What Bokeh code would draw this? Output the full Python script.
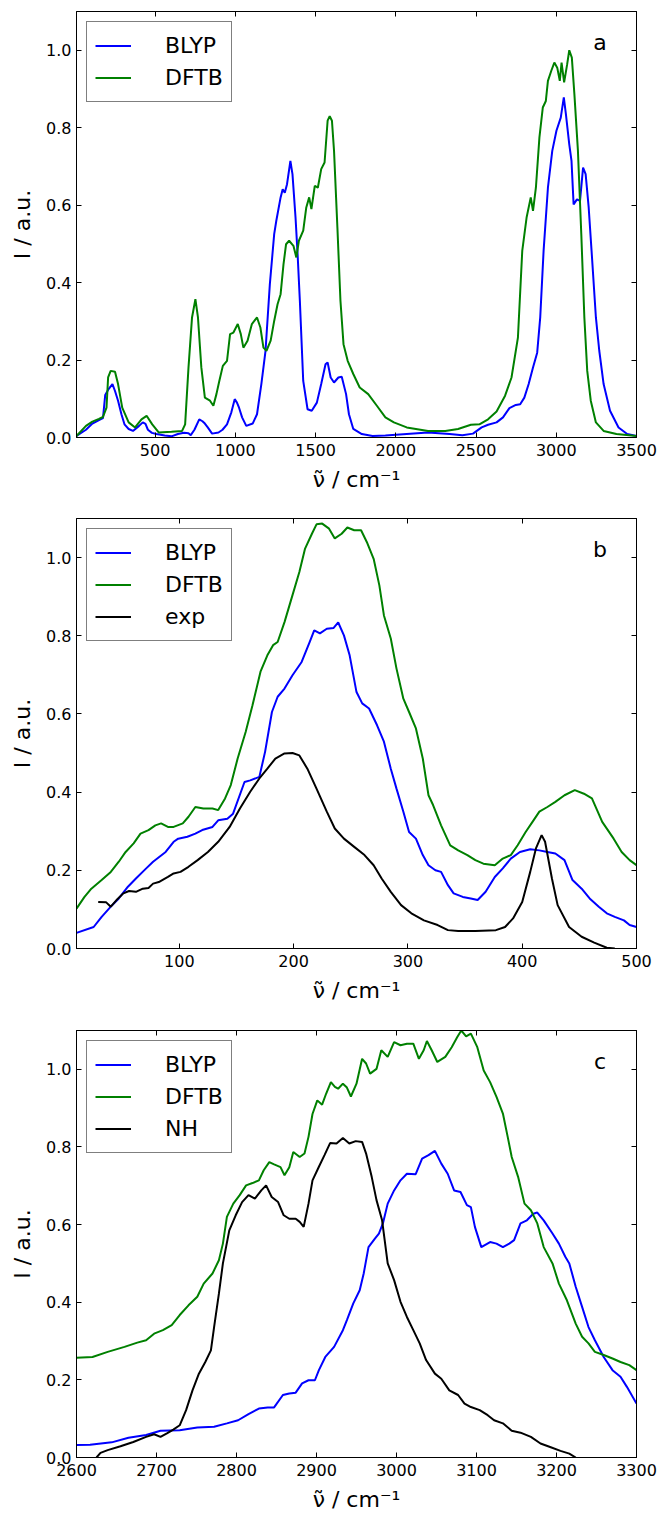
from bokeh.plotting import figure
from bokeh.layouts import column
from bokeh.models import (Range1d, LinearAxis, FixedTicker, PrintfTickFormatter,
                          Legend, LegendItem, Label)
from bokeh.embed import file_html
from bokeh.resources import INLINE

# ---------------- data ----------------
# panel a (full spectrum)
a_blyp_x = [10, 69, 109, 150, 175, 189, 210, 234, 250, 269,
            290, 309, 335, 362, 400, 423, 440, 455, 480, 508,
            560, 602, 642, 680, 708, 722, 745, 775, 795, 810,
            828, 855, 895, 920, 948, 975, 996, 1010, 1023, 1042,
            1068, 1108, 1135, 1162, 1188, 1215, 1242, 1255, 1282, 1295,
            1308, 1322, 1343, 1356, 1375, 1388, 1402, 1423, 1450, 1476,
            1508, 1535, 1562, 1575, 1594, 1615, 1642, 1663, 1690, 1708,
            1735, 1788, 1855, 1935, 2068, 2201, 2335, 2415, 2481, 2535,
            2575, 2628, 2668, 2708, 2748, 2775, 2801, 2828, 2855, 2881,
            2900, 2921, 2948, 2975, 3001, 3028, 3047, 3060, 3081, 3095,
            3108, 3129, 3148, 3167, 3183, 3202, 3220, 3247, 3268, 3295,
            3335, 3388, 3442, 3500]
a_blyp_y = [0.004, 0.02, 0.036, 0.045, 0.05, 0.11, 0.125, 0.138, 0.12, 0.095,
            0.06, 0.034, 0.022, 0.017, 0.03, 0.039, 0.035, 0.02, 0.012, 0.009,
            0.005, 0.003, 0.009, 0.012, 0.011, 0.006, 0.02, 0.047, 0.042, 0.036,
            0.026, 0.01, 0.013, 0.02, 0.034, 0.065, 0.099, 0.09, 0.077, 0.052,
            0.03, 0.036, 0.06, 0.138, 0.224, 0.396, 0.525, 0.559, 0.62, 0.641,
            0.632, 0.654, 0.714, 0.68, 0.568, 0.473, 0.353, 0.146, 0.073, 0.069,
            0.09, 0.138, 0.189, 0.194, 0.155, 0.142, 0.155, 0.157, 0.112, 0.06,
            0.022, 0.009, 0.004, 0.005, 0.009, 0.013, 0.009, 0.006, 0.01, 0.026,
            0.033, 0.039, 0.052, 0.076, 0.084, 0.086, 0.103, 0.138, 0.181, 0.219,
            0.31, 0.482, 0.645, 0.74, 0.792, 0.826, 0.878, 0.835, 0.757, 0.714,
            0.602, 0.615, 0.611, 0.697, 0.68, 0.594, 0.482, 0.31, 0.224, 0.138,
            0.069, 0.026, 0.009, 0.004]
a_dftb_x = [10, 69, 109, 150, 175, 197, 207, 223, 250, 269,
            295, 335, 375, 415, 447, 482, 522, 602, 668, 687,
            708, 730, 751, 767, 788, 810, 842, 863, 882, 900,
            922, 948, 967, 988, 1015, 1034, 1050, 1076, 1103, 1135,
            1156, 1175, 1194, 1220, 1242, 1263, 1282, 1300, 1316, 1335,
            1362, 1380, 1396, 1423, 1442, 1460, 1474, 1495, 1514, 1535,
            1556, 1575, 1588, 1602, 1615, 1636, 1655, 1674, 1700, 1735,
            1775, 1828, 1882, 1935, 1988, 2068, 2201, 2308, 2388, 2468,
            2521, 2575, 2628, 2681, 2721, 2761, 2788, 2815, 2841, 2855,
            2873, 2895, 2916, 2935, 2948, 2969, 2988, 3006, 3022, 3033,
            3049, 3068, 3081, 3097, 3113, 3135, 3156, 3175, 3193, 3215,
            3247, 3295, 3375, 3500]
a_dftb_y = [0.004, 0.03, 0.041, 0.048, 0.053, 0.077, 0.155, 0.172, 0.17, 0.138,
            0.077, 0.039, 0.026, 0.047, 0.056, 0.034, 0.013, 0.015, 0.017, 0.034,
            0.181, 0.31, 0.357, 0.31, 0.181, 0.103, 0.095, 0.082, 0.112, 0.146,
            0.185, 0.198, 0.267, 0.271, 0.293, 0.267, 0.232, 0.25, 0.293, 0.31,
            0.284, 0.232, 0.224, 0.25, 0.301, 0.344, 0.37, 0.447, 0.499, 0.508,
            0.495, 0.465, 0.508, 0.534, 0.594, 0.62, 0.59, 0.65, 0.645, 0.693,
            0.71, 0.818, 0.83, 0.818, 0.74, 0.542, 0.353, 0.241, 0.198, 0.164,
            0.129, 0.112, 0.082, 0.052, 0.039, 0.026, 0.017, 0.017, 0.022, 0.033,
            0.034, 0.047, 0.067, 0.108, 0.155, 0.258, 0.482, 0.568, 0.62, 0.585,
            0.645, 0.775, 0.852, 0.869, 0.921, 0.947, 0.968, 0.955, 0.921, 0.968,
            0.917, 0.964, 1.0, 0.981, 0.886, 0.74, 0.525, 0.31, 0.172, 0.095,
            0.039, 0.017, 0.009, 0.004]

# panel b (low-frequency region)
b_blyp_x = [10, 25, 32, 40, 47, 55, 62, 71, 77, 88,
            95, 99, 107, 114, 120, 129, 134, 142, 147, 157,
            162, 170, 175, 181, 186, 192, 199, 207, 214, 218,
            223, 229, 235, 239, 244, 249, 255, 260, 266, 273,
            279, 285, 290, 296, 301, 307, 313, 318, 324, 329,
            335, 340, 348, 355, 361, 368, 376, 383, 390, 398,
            407, 415, 422, 429, 437, 444, 452, 459, 467, 474,
            481, 489, 494, 500]
b_blyp_y = [0.04, 0.055, 0.081, 0.107, 0.128, 0.158, 0.179, 0.205, 0.222, 0.247,
            0.273, 0.281, 0.286, 0.294, 0.303, 0.311, 0.328, 0.332, 0.345, 0.426,
            0.43, 0.439, 0.503, 0.605, 0.644, 0.665, 0.699, 0.733, 0.784, 0.814,
            0.806, 0.818, 0.82, 0.834, 0.801, 0.75, 0.656, 0.627, 0.614, 0.571,
            0.529, 0.46, 0.409, 0.35, 0.298, 0.281, 0.239, 0.213, 0.2, 0.196,
            0.162, 0.141, 0.132, 0.128, 0.124, 0.145, 0.183, 0.205, 0.23, 0.247,
            0.254, 0.251, 0.247, 0.243, 0.226, 0.175, 0.153, 0.128, 0.107, 0.09,
            0.081, 0.072, 0.06, 0.055]
b_dftb_x = [10, 17, 23, 32, 40, 47, 53, 60, 66, 73,
            79, 84, 90, 95, 103, 108, 114, 121, 129, 134,
            140, 145, 151, 158, 164, 171, 177, 182, 186, 192,
            199, 205, 210, 216, 220, 225, 231, 236, 242, 247,
            253, 259, 264, 270, 275, 279, 285, 290, 296, 301,
            307, 313, 318, 322, 329, 337, 344, 352, 359, 366,
            376, 383, 390, 396, 403, 409, 415, 422, 429, 437,
            446, 454, 461, 470, 480, 487, 494, 500]
b_dftb_y = [0.102, 0.132, 0.153, 0.175, 0.196, 0.222, 0.247, 0.269, 0.294, 0.303,
            0.315, 0.32, 0.311, 0.311, 0.32, 0.337, 0.362, 0.358, 0.358, 0.354,
            0.384, 0.418, 0.486, 0.554, 0.622, 0.708, 0.75, 0.776, 0.784, 0.835,
            0.904, 0.963, 1.023, 1.061, 1.085, 1.087, 1.074, 1.049, 1.061, 1.077,
            1.07, 1.07, 1.04, 0.997, 0.929, 0.852, 0.793, 0.716, 0.639, 0.605,
            0.563, 0.486, 0.392, 0.367, 0.315, 0.264, 0.251, 0.239, 0.226, 0.217,
            0.213, 0.23, 0.239, 0.264, 0.298, 0.324, 0.35, 0.362, 0.375, 0.392,
            0.405, 0.396, 0.384, 0.324, 0.281, 0.247, 0.226, 0.213]
b_exp_x = [29, 36, 40, 45, 51, 56, 62, 68, 73, 77,
           82, 90, 95, 101, 108, 116, 125, 134, 144, 153,
           162, 170, 177, 184, 192, 199, 205, 212, 220, 229,
           236, 244, 253, 262, 270, 277, 285, 294, 303, 314,
           326, 335, 344, 359, 377, 385, 392, 400, 407, 412,
           417, 420, 426, 431, 441, 452, 463, 474, 481]
b_exp_y = [0.119, 0.118, 0.107, 0.124, 0.141, 0.147, 0.145, 0.153, 0.155, 0.166,
           0.17, 0.183, 0.192, 0.196, 0.209, 0.226, 0.247, 0.273, 0.311, 0.358,
           0.401, 0.435, 0.46, 0.486, 0.499, 0.5, 0.494, 0.46, 0.409, 0.35,
           0.307, 0.281, 0.26, 0.239, 0.213, 0.179, 0.145, 0.111, 0.09, 0.072,
           0.06, 0.047, 0.045, 0.045, 0.047, 0.055, 0.077, 0.119, 0.196, 0.256,
           0.29, 0.273, 0.179, 0.111, 0.055, 0.03, 0.015, 0.002, 0.0]

# panel c (high-frequency region)
c_blyp_x = [2600, 2617, 2644, 2665, 2687, 2705, 2729, 2751, 2772, 2788,
            2802, 2815, 2828, 2839, 2847, 2858, 2866, 2874, 2882, 2890,
            2898, 2903, 2911, 2922, 2933, 2938, 2946, 2954, 2959, 2965,
            2973, 2978, 2983, 2989, 2997, 3005, 3013, 3024, 3032, 3040,
            3048, 3056, 3064, 3072, 3080, 3088, 3093, 3098, 3106, 3117,
            3125, 3133, 3141, 3147, 3155, 3163, 3171, 3176, 3184, 3195,
            3203, 3211, 3216, 3224, 3232, 3240, 3248, 3259, 3270, 3280,
            3288, 3300]
c_blyp_y = [0.032, 0.033, 0.039, 0.051, 0.058, 0.069, 0.07, 0.077, 0.079, 0.088,
            0.096, 0.112, 0.126, 0.129, 0.129, 0.161, 0.165, 0.167, 0.191, 0.199,
            0.199, 0.225, 0.259, 0.285, 0.328, 0.354, 0.397, 0.431, 0.474, 0.542,
            0.564, 0.577, 0.603, 0.654, 0.688, 0.714, 0.731, 0.73, 0.77, 0.779,
            0.79, 0.757, 0.731, 0.688, 0.684, 0.65, 0.645, 0.594, 0.542, 0.555,
            0.551, 0.542, 0.551, 0.56, 0.603, 0.611, 0.628, 0.631, 0.611, 0.577,
            0.551, 0.517, 0.5, 0.44, 0.388, 0.336, 0.302, 0.259, 0.225, 0.208,
            0.182, 0.139]
c_dftb_x = [2600, 2620, 2639, 2660, 2676, 2687, 2697, 2708, 2719, 2729,
            2740, 2751, 2759, 2770, 2778, 2783, 2788, 2796, 2804, 2812,
            2820, 2828, 2834, 2841, 2847, 2855, 2860, 2866, 2871, 2879,
            2885, 2890, 2895, 2901, 2907, 2912, 2918, 2923, 2927, 2933,
            2938, 2943, 2950, 2957, 2962, 2967, 2975, 2981, 2989, 2997,
            3005, 3013, 3021, 3028, 3034, 3038, 3044, 3051, 3061, 3069,
            3076, 3081, 3087, 3093, 3101, 3109, 3117, 3125, 3133, 3139,
            3144, 3152, 3160, 3168, 3176, 3184, 3195, 3203, 3213, 3224,
            3232, 3240, 3248, 3259, 3270, 3280, 3291, 3300]
c_dftb_y = [0.257, 0.259, 0.272, 0.285, 0.296, 0.302, 0.319, 0.328, 0.341, 0.367,
            0.392, 0.414, 0.448, 0.474, 0.508, 0.551, 0.62, 0.654, 0.676, 0.701,
            0.707, 0.714, 0.74, 0.761, 0.755, 0.748, 0.727, 0.748, 0.787, 0.774,
            0.783, 0.826, 0.885, 0.92, 0.909, 0.937, 0.967, 0.955, 0.95, 0.963,
            0.953, 0.93, 0.963, 1.027, 1.015, 0.989, 1.001, 1.049, 1.032, 1.07,
            1.062, 1.066, 1.066, 1.027, 1.049, 1.073, 1.049, 1.019, 1.032, 1.057,
            1.083, 1.1, 1.085, 1.092, 1.057, 0.997, 0.967, 0.929, 0.886, 0.826,
            0.774, 0.723, 0.654, 0.637, 0.603, 0.542, 0.5, 0.448, 0.405, 0.345,
            0.311, 0.294, 0.272, 0.264, 0.255, 0.246, 0.238, 0.225]
c_nh_x = [2625, 2630, 2639, 2655, 2671, 2687, 2697, 2705, 2713, 2721,
          2729, 2737, 2745, 2753, 2761, 2768, 2772, 2778, 2783, 2791,
          2799, 2807, 2815, 2823, 2831, 2837, 2844, 2852, 2859, 2866,
          2874, 2879, 2884, 2890, 2895, 2903, 2910, 2917, 2925, 2933,
          2941, 2949, 2957, 2962, 2969, 2975, 2982, 2989, 2997, 3005,
          3013, 3021, 3029, 3037, 3048, 3056, 3066, 3077, 3085, 3093,
          3104, 3114, 3122, 3133, 3144, 3155, 3168, 3180, 3192, 3205,
          3216, 3224]
c_nh_y = [0.0, 0.012, 0.019, 0.029, 0.04, 0.053, 0.06, 0.053, 0.062, 0.072,
          0.083, 0.122, 0.173, 0.216, 0.246, 0.276, 0.336, 0.422, 0.5, 0.585,
          0.624, 0.658, 0.676, 0.667, 0.688, 0.701, 0.671, 0.658, 0.624, 0.615,
          0.615, 0.607, 0.594, 0.654, 0.714, 0.749, 0.779, 0.81, 0.809, 0.823,
          0.809, 0.815, 0.813, 0.783, 0.723, 0.663, 0.611, 0.5, 0.457, 0.401,
          0.362, 0.328, 0.294, 0.251, 0.216, 0.203, 0.173, 0.161, 0.139, 0.13,
          0.122, 0.109, 0.096, 0.088, 0.069, 0.064, 0.053, 0.036, 0.027, 0.017,
          0.01, 0.0]

a_xticks = [500, 1000, 1500, 2000, 2500, 3000, 3500]
b_xticks = [100, 200, 300, 400, 500]
c_xticks = [2600, 2700, 2800, 2900, 3000, 3100, 3200, 3300]
y_ticks = [0.0, 0.2, 0.4, 0.6, 0.8, 1.0]

x_title = "\u03bd\u0303 / cm\u207b\u00b9"
y_title = "I / a.u."

FONT = "DejaVu Sans"
BLUE = "#0000ff"
GREEN = "#008000"
BLACK = "#000000"


def style_axis(ax, labels=True):
    ax.major_tick_in = 5
    ax.major_tick_out = 0
    ax.minor_tick_in = 0
    ax.minor_tick_out = 0
    ax.axis_line_color = BLACK
    ax.major_tick_line_color = BLACK
    ax.major_label_text_font = FONT
    if labels:
        ax.major_label_text_color = BLACK
        ax.major_label_text_font_size = "16px"
    else:
        # tick marks only (mirrored ticks on top / right), no labels drawn
        ax.major_label_text_color = None
        ax.major_label_text_alpha = 0
        ax.major_label_standoff = 0


def panel(xr, xticks, series, tag, top, bottom):
    p = figure(width=662, height=505, x_range=Range1d(*xr), y_range=Range1d(0, 1.1),
               output_backend="svg", toolbar_location=None,
               min_border_left=76, min_border_right=26,
               min_border_top=top, min_border_bottom=bottom)
    p.grid.visible = False
    p.outline_line_color = BLACK
    p.outline_line_width = 1
    p.background_fill_color = "white"
    p.border_fill_color = "white"

    p.xaxis.ticker = FixedTicker(ticks=xticks)
    p.yaxis.ticker = FixedTicker(ticks=y_ticks)
    p.yaxis.formatter = PrintfTickFormatter(format="%.1f")
    style_axis(p.xaxis[0])
    style_axis(p.yaxis[0])
    p.xaxis.major_label_standoff = 6
    p.yaxis.major_label_standoff = 5
    p.xaxis.axis_label = x_title
    p.yaxis.axis_label = y_title
    for ax in (p.xaxis[0], p.yaxis[0]):
        ax.axis_label_text_font = FONT
        ax.axis_label_text_font_size = "22px"
        ax.axis_label_text_font_style = "normal"
        ax.axis_label_text_color = BLACK
        ax.axis_label_standoff = 8

    top_ax = LinearAxis(ticker=FixedTicker(ticks=xticks))
    style_axis(top_ax, labels=False)
    p.add_layout(top_ax, "above")
    right_ax = LinearAxis(ticker=FixedTicker(ticks=y_ticks))
    style_axis(right_ax, labels=False)
    p.add_layout(right_ax, "right")

    items = []
    for name, xs, ys, color in series:
        r = p.line(xs, ys, line_color=color, line_width=2)
        items.append(LegendItem(label=name, renderers=[r]))
    leg = Legend(items=items, location="top_left", margin=10, padding=8,
                 spacing=1, glyph_width=36, glyph_height=31, label_height=31,
                 label_standoff=34, label_text_font=FONT, label_text_font_size="22px",
                 label_text_color=BLACK, border_line_color=BLACK, border_line_width=1,
                 background_fill_color="white", background_fill_alpha=1.0)
    p.add_layout(leg)

    lab = Label(x=xr[0] + 0.935 * (xr[1] - xr[0]), y=1.02, text=tag,
                text_font=FONT, text_font_size="22px", text_color=BLACK,
                text_align="center", text_baseline="middle")
    p.add_layout(lab)
    return p


pa = panel((10, 3500), a_xticks,
           [("BLYP", a_blyp_x, a_blyp_y, BLUE), ("DFTB", a_dftb_x, a_dftb_y, GREEN)],
           "a", 11, 68)
pb = panel((10, 500), b_xticks,
           [("BLYP", b_blyp_x, b_blyp_y, BLUE), ("DFTB", b_dftb_x, b_dftb_y, GREEN),
            ("exp", b_exp_x, b_exp_y, BLACK)],
           "b", 13, 62)
pc = panel((2600, 3300), c_xticks,
           [("BLYP", c_blyp_x, c_blyp_y, BLUE), ("DFTB", c_dftb_x, c_dftb_y, GREEN),
            ("NH", c_nh_x, c_nh_y, BLACK)],
           "c", 20, 58)

layout = column(pa, pb, pc, spacing=0)
open("out.html", "w").write(file_html(layout, INLINE))
